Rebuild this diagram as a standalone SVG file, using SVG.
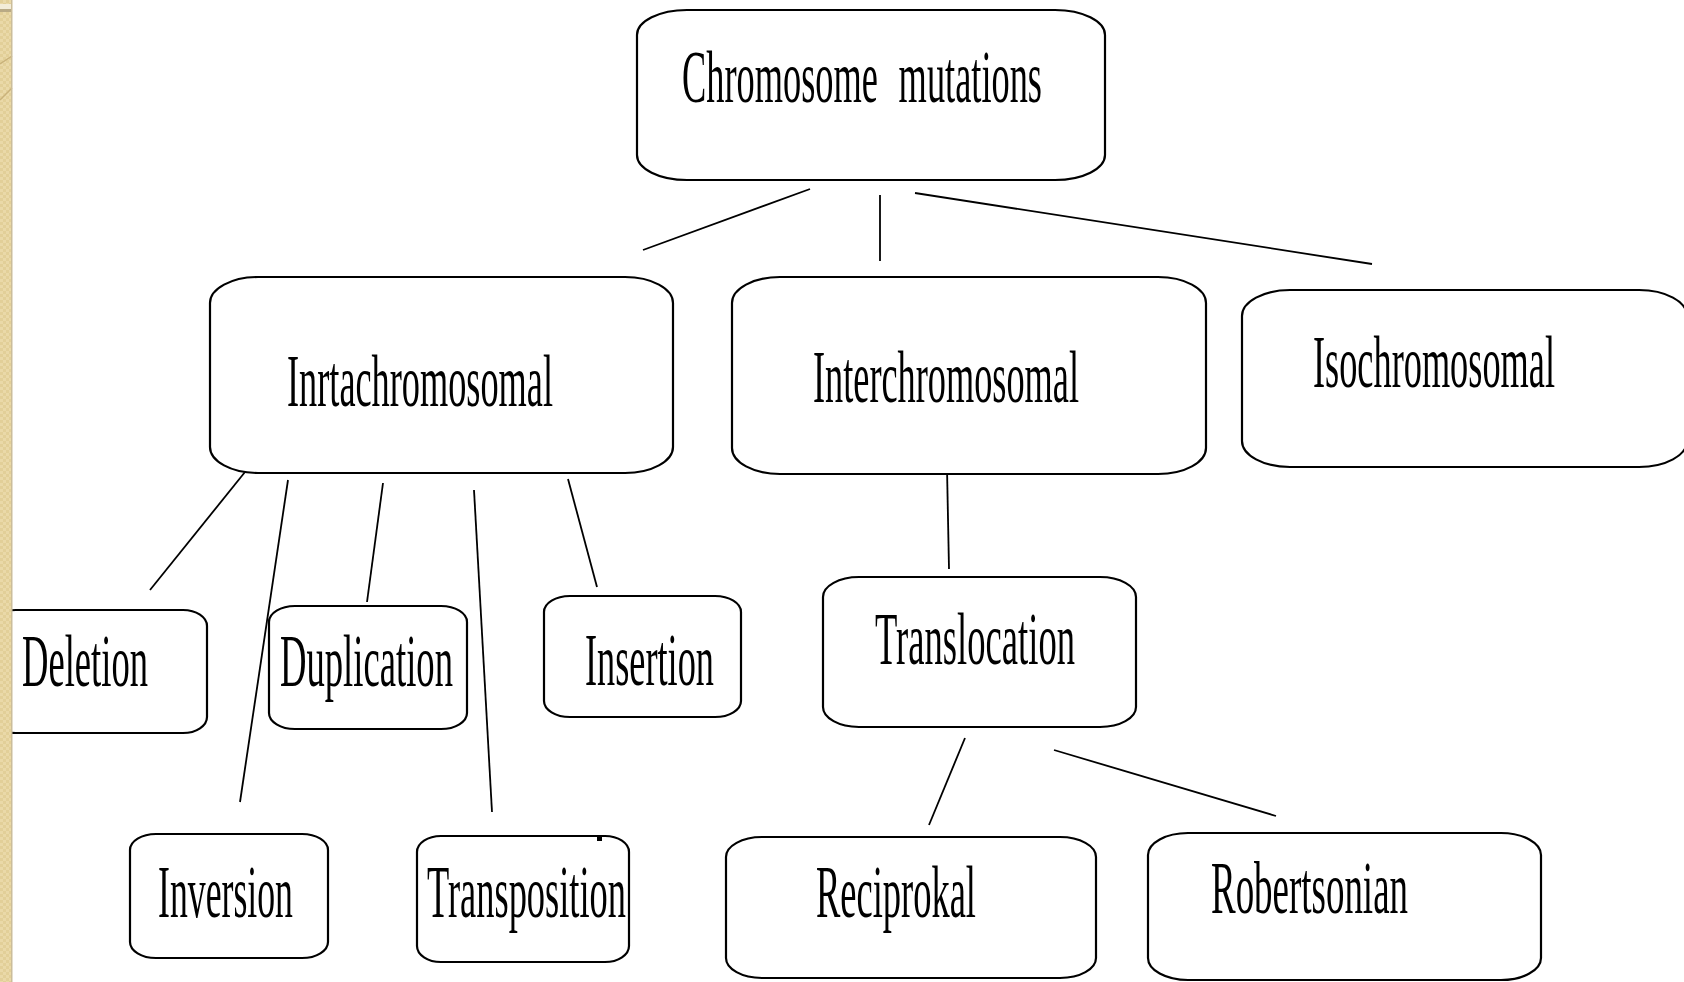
<svg xmlns="http://www.w3.org/2000/svg" width="1684" height="982" viewBox="0 0 1684 982">
<defs>
<pattern id="chk" x="0" y="0" width="6" height="6" patternUnits="userSpaceOnUse">
<rect width="6" height="6" fill="#ead9a8"/>
<rect width="3" height="3" fill="#e2cf98"/>
<rect x="3" y="3" width="3" height="3" fill="#e2cf98"/>
</pattern>
<style>
.box{fill:#fff;stroke:#000;stroke-width:2.2}
.lbl{font-family:"Liberation Serif","Times New Roman",serif;font-size:75px;fill:#000}
.con line{stroke:#000;stroke-width:1.8}
</style>
</defs>
<rect width="1684" height="982" fill="#fff"/>

<g id="connectors" class="con">
<line x1="643" y1="250" x2="810" y2="189"/>
<line x1="880" y1="195" x2="880" y2="261"/>
<line x1="915" y1="193" x2="1372" y2="264"/>
<line x1="245" y1="472" x2="150" y2="590"/>
<line x1="288" y1="480" x2="240" y2="802"/>
<line x1="383" y1="483" x2="367" y2="602"/>
<line x1="474" y1="490" x2="492" y2="812"/>
<line x1="568" y1="479" x2="597" y2="587"/>
<line x1="947" y1="468" x2="949" y2="569"/>
<line x1="965" y1="738" x2="929" y2="825"/>
<line x1="1054" y1="750" x2="1276" y2="816"/>
</g>

<g id="n-root">
<rect class="box" x="637" y="10" width="468" height="170" rx="50" ry="25"/>
<text class="lbl" transform="translate(682 102) scale(0.5 1)" x="0" y="0" textLength="720" lengthAdjust="spacingAndGlyphs" word-spacing="24">Chromosome mutations</text>
</g>
<g id="n-intra">
<rect class="box" x="210" y="277" width="463" height="196" rx="48" ry="26"/>
<text class="lbl" transform="translate(287 406) scale(0.5 1)" x="0" y="0" textLength="532" lengthAdjust="spacingAndGlyphs">Inrtachromosomal</text>
</g>
<g id="n-inter">
<rect class="box" x="732" y="277" width="474" height="197" rx="48" ry="26"/>
<text class="lbl" transform="translate(813 402) scale(0.5 1)" x="0" y="0" textLength="532" lengthAdjust="spacingAndGlyphs">Interchromosomal</text>
</g>
<g id="n-iso">
<rect class="box" x="1242" y="290" width="445" height="177" rx="48" ry="26"/>
<text class="lbl" transform="translate(1313 387) scale(0.5 1)" x="0" y="0" textLength="484" lengthAdjust="spacingAndGlyphs">Isochromosomal</text>
</g>
<g id="n-deletion">
<rect class="box" x="-8" y="610" width="215" height="123" rx="24" ry="16"/>
<text class="lbl" transform="translate(22 686) scale(0.5 1)" x="0" y="0" textLength="252" lengthAdjust="spacingAndGlyphs">Deletion</text>
</g>
<g id="n-duplication">
<rect class="box" x="269" y="606" width="198" height="123" rx="26" ry="16"/>
<text class="lbl" transform="translate(280 686) scale(0.5 1)" x="0" y="0" textLength="346" lengthAdjust="spacingAndGlyphs">Duplication</text>
</g>
<g id="n-insertion">
<rect class="box" x="544" y="596" width="197" height="121" rx="26" ry="16"/>
<text class="lbl" transform="translate(585 685) scale(0.5 1)" x="0" y="0" textLength="258" lengthAdjust="spacingAndGlyphs">Insertion</text>
</g>
<g id="n-translocation">
<rect class="box" x="823" y="577" width="313" height="150" rx="36" ry="20"/>
<text class="lbl" transform="translate(875 664) scale(0.5 1)" x="0" y="0" textLength="400" lengthAdjust="spacingAndGlyphs">Translocation</text>
</g>
<g id="n-inversion">
<rect class="box" x="130" y="834" width="198" height="124" rx="26" ry="16"/>
<text class="lbl" transform="translate(158 917) scale(0.5 1)" x="0" y="0" textLength="270" lengthAdjust="spacingAndGlyphs">Inversion</text>
</g>
<g id="n-transposition">
<rect class="box" x="417" y="836" width="212" height="126" rx="24" ry="16"/>
<rect x="597" y="837" width="5" height="4" fill="#000"/>
<text class="lbl" transform="translate(427 917) scale(0.5 1)" x="0" y="0" textLength="398" lengthAdjust="spacingAndGlyphs">Transposition</text>
</g>
<g id="n-reciprokal">
<rect class="box" x="726" y="837" width="370" height="141" rx="36" ry="20"/>
<text class="lbl" transform="translate(816 917) scale(0.5 1)" x="0" y="0" textLength="320" lengthAdjust="spacingAndGlyphs">Reciprokal</text>
</g>
<g id="n-robertsonian">
<rect class="box" x="1148" y="833" width="393" height="147" rx="40" ry="22"/>
<text class="lbl" transform="translate(1211 913) scale(0.5 1)" x="0" y="0" textLength="394" lengthAdjust="spacingAndGlyphs">Robertsonian</text>
</g>

<g id="border">
<rect x="0" y="0" width="12" height="982" fill="url(#chk)"/>
<rect x="0" y="4" width="12" height="5" fill="#f3ecd8"/>
<rect x="0" y="9" width="12" height="3" fill="#b9aa85"/>
<path d="M0 64 Q6 60 12 56" fill="none" stroke="#c9b27a" stroke-width="1.5"/>
<path d="M0 100 Q6 94 12 88" fill="none" stroke="#c9b27a" stroke-width="1.5"/>
<rect x="11" y="0" width="1.5" height="982" fill="#cbbd9a"/>
</g>
</svg>
